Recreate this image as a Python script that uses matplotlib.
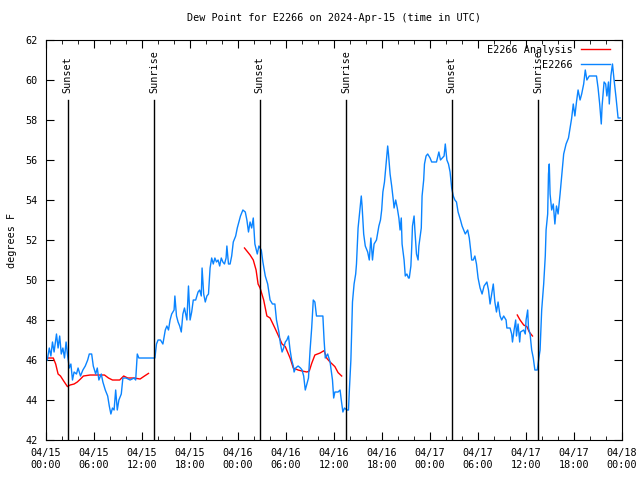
import numpy as np
import pandas as pd
import matplotlib
matplotlib.use('Agg')
import matplotlib.pyplot as plt
import matplotlib.dates as mdates

plt.rcParams['font.family'] = 'DejaVu Sans Mono'
plt.rcParams['font.size'] = 7.3

start = pd.Timestamp('2024-04-15 00:00')

# station obs: hours after start, dew point (F)
obs_hours = [0.15, 0.4, 0.6, 0.8, 1.0, 1.3, 1.5, 1.7, 1.9, 2.1, 2.3, 2.5, 2.7, 2.9, 3.1, 3.3, 3.5, 3.8,
             4.0, 4.3, 4.6, 4.9, 5.2, 5.4, 5.7, 5.9, 6.2, 6.4, 6.6, 6.9, 7.1, 7.4, 7.7, 7.9, 8.1, 8.3,
             8.5, 8.7, 8.9, 9.1, 9.4, 9.6, 10.0, 10.5, 11.0, 11.2, 11.4, 11.6, 12.0, 12.5, 13.0, 13.6,
             13.8, 14.0, 14.3, 14.6, 14.9, 15.1, 15.3, 15.5, 15.7, 16.0, 16.1, 16.3, 16.5, 16.7, 16.9,
             17.1, 17.3, 17.6, 17.8, 18.0, 18.2, 18.4, 18.7, 19.0, 19.2, 19.4, 19.5, 19.7, 19.9, 20.1,
             20.3, 20.5, 20.7, 20.9, 21.1, 21.3, 21.5, 21.7, 21.9, 22.1, 22.3, 22.5, 22.6, 22.8, 23.0,
             23.2, 23.4, 23.7, 23.9, 24.1, 24.3, 24.6, 24.9, 25.1, 25.3, 25.5, 25.7, 25.9, 26.1, 26.4,
             26.6, 26.9, 27.1, 27.4, 27.7, 28.0, 28.3, 28.6, 28.8, 29.1, 29.3, 29.5, 29.7, 29.9, 30.1,
             30.3, 30.5, 30.7, 30.9, 31.0, 31.2, 31.5, 31.8, 32.0, 32.2, 32.4, 32.6, 32.8, 33.0, 33.2,
             33.4, 33.6, 33.8, 34.2, 34.6, 34.75, 34.9, 35.2, 35.5, 35.8, 35.95, 36.1, 36.5, 36.75,
             36.9, 37.1, 37.3, 37.6, 37.8, 37.9, 38.1, 38.2, 38.3, 38.5, 38.7, 38.8, 39.0, 39.2, 39.4,
             39.5, 39.7, 39.9, 40.2, 40.4, 40.6, 40.8, 41.0, 41.3, 41.6, 41.8, 41.95, 42.1, 42.3, 42.5,
             42.7, 42.8, 43.0, 43.2, 43.4, 43.5, 43.7, 43.9, 44.1, 44.25, 44.4, 44.5, 44.75, 44.9,
             45.1, 45.3, 45.4, 45.6, 45.7, 45.8, 46.0, 46.1, 46.3, 46.5, 46.6, 46.9, 47.0, 47.2, 47.3,
             47.5, 47.7, 48.0, 48.2, 48.5, 48.8, 49.1, 49.3, 49.75, 49.9, 50.1, 50.3, 50.5, 50.7, 50.9,
             51.1, 51.3, 51.5, 51.8, 52.0, 52.2, 52.4, 52.7, 52.9, 53.1, 53.2, 53.4, 53.6, 53.8, 54.0,
             54.25, 54.5, 54.75, 55.1, 55.3, 55.5, 55.7, 55.9, 56.1, 56.3, 56.5, 56.75, 56.95, 57.2,
             57.5, 57.6, 58.0, 58.2, 58.3, 58.5, 58.7, 58.8, 59.0, 59.2, 59.3, 59.7, 59.9, 60.0, 60.2,
             60.3, 60.5, 60.7, 60.9, 61.1, 61.4, 61.6, 61.75, 61.95, 62.2, 62.4, 62.5, 62.7, 62.8,
             62.9, 63.0, 63.2, 63.4, 63.6, 63.8, 64.0, 64.25, 64.5, 64.7, 65.0, 65.3, 65.5, 65.7,
             65.9, 66.1, 66.3, 66.5, 66.75, 66.95, 67.2, 67.4, 67.6, 67.9, 68.8, 69.0, 69.2, 69.4,
             69.5, 69.75, 69.95, 70.1, 70.3, 70.4, 70.6, 70.8, 71.0, 71.25, 71.5, 71.75]
obs_dewpt = [46.0, 46.6, 46.2, 46.9, 46.4, 47.3, 46.6, 47.2, 46.3, 46.6, 46.1, 46.9, 46.2, 45.6, 45.8,
             45.0, 45.4, 45.3, 45.6, 45.2, 45.5, 45.7, 46.0, 46.3, 46.3, 45.7, 45.3, 45.6, 45.0, 45.3,
             44.9, 44.5, 44.2, 43.7, 43.3, 43.6, 43.5, 44.5, 43.5, 44.0, 44.3, 45.1, 45.1, 45.0, 45.1,
             45.0, 46.3, 46.1, 46.1, 46.1, 46.1, 46.1, 46.8, 47.0, 47.0, 46.8, 47.5, 47.7, 47.5, 48.0,
             48.3, 48.5, 49.2, 48.2, 47.9, 47.7, 47.4, 48.3, 48.6, 48.0, 49.7, 48.0, 48.4, 49.0, 49.0,
             49.4, 49.5, 49.2, 50.6, 49.3, 48.9, 49.2, 49.3, 50.6, 51.1, 50.8, 51.1, 50.9, 51.0, 50.7,
             51.1, 50.9, 50.8, 51.1, 51.7, 50.8, 50.8, 51.2, 51.9, 52.2, 52.6, 52.9, 53.2, 53.5, 53.4,
             53.0, 52.4, 52.9, 52.6, 53.1, 51.8, 51.3, 51.7, 51.5, 50.9, 50.2, 49.8, 49.0, 48.8, 48.8,
             48.0, 47.4, 46.8, 46.4, 46.6, 46.9, 47.0, 47.2, 46.5, 46.0, 45.7, 45.4, 45.6, 45.7, 45.6,
             45.5, 45.2, 44.5, 44.8, 45.1, 46.5, 47.6, 49.0, 48.9, 48.2, 48.2, 48.2, 47.0, 46.1, 46.3,
             45.9, 45.0, 44.1, 44.4, 44.4, 44.5, 44.0, 43.4, 43.6, 43.5, 43.5, 44.4, 46.0, 47.5, 48.9,
             49.8, 50.3, 50.8, 52.6, 53.4, 54.2, 53.7, 52.3, 51.7, 51.4, 51.0, 52.1, 51.0, 51.8, 52.0,
             52.7, 53.0, 53.5, 54.4, 54.9, 55.8, 56.7, 56.3, 55.3, 54.7, 54.0, 53.6, 54.0, 53.6, 53.1,
             52.5, 53.1, 51.8, 51.0, 50.2, 50.3, 50.1, 50.1, 50.7, 51.6, 52.7, 53.2, 52.5, 51.3, 51.0,
             51.7, 52.6, 54.2, 55.0, 55.8, 56.2, 56.3, 56.1, 55.9, 55.9, 55.9, 56.4, 56.0, 56.2, 56.8,
             56.0, 55.8, 55.4, 54.6, 54.2, 54.0, 53.9, 53.4, 53.0, 52.7, 52.5, 52.3, 52.5, 52.1, 51.4,
             51.0, 51.0, 51.2, 50.8, 50.1, 49.6, 49.3, 49.7, 49.9, 49.5, 48.8, 49.3, 49.8, 48.9, 48.4,
             48.9, 48.2, 48.0, 48.2, 48.0, 47.6, 47.6, 47.3, 46.9, 47.5, 48.0, 47.2, 47.8, 46.9, 47.4,
             47.5, 47.3, 48.0, 48.5, 47.6, 47.3, 46.5, 46.1, 45.5, 45.5, 46.1, 46.5, 48.5, 49.8, 51.2,
             52.5, 53.3, 55.3, 55.8, 54.3, 53.5, 53.8, 52.8, 53.7, 53.3, 54.3, 55.4, 56.3, 56.8, 57.1,
             57.6, 58.1, 58.8, 58.2, 58.9, 59.5, 59.0, 59.3, 59.8, 60.5, 60.0, 60.2, 60.2, 59.6, 58.8,
             57.8, 58.7, 59.9, 59.8, 59.2, 59.9, 58.8, 60.2, 60.8, 60.0, 59.1, 58.1, 58.1]

# analysis series (nan = gap)
ana_hours = [0.15, 0.9, 1.2, 1.5, 1.8, 2.2, 2.67, 3.0, 3.5, 3.9, 4.3, 4.67, 5.5, 6.5, 7.3, 7.8, 8.3,
             9.2, 9.7, 10.2, 11.0, 11.75, 12.3, 12.8, np.nan,
             24.8, 25.2, 25.5, 25.9, 26.25, 26.5, 26.75, 27.2, 27.6, 28.0, 28.6, 29.0, 29.5, 29.9,
             30.5, 30.9, 31.5, 32.0, 32.6, 32.9, 33.2, 33.6, 34.25, 34.75, 35.1, 35.5, 36.1, 36.5,
             36.95, np.nan,
             58.9, 59.25, 59.7, 60.1, 60.4, 60.8]
ana_dewpt = [46.1, 46.1, 45.8, 45.3, 45.2, 44.95, 44.67, 44.75, 44.8, 44.9, 45.05, 45.2, 45.25, 45.25,
             45.25, 45.1, 45.0, 45.0, 45.2, 45.1, 45.1, 45.05, 45.2, 45.33, np.nan,
             51.6, 51.4, 51.25, 51.0, 50.5, 49.8, 49.6, 49.0, 48.2, 48.1, 47.6, 47.25, 46.8, 46.67,
             46.1, 45.6, 45.5, 45.45, 45.4, 45.45, 45.83, 46.25, 46.35, 46.47, 46.08, 45.9, 45.67,
             45.37, 45.2, np.nan,
             48.25, 48.0, 47.75, 47.67, 47.4, 47.2]

sun_hours = [2.7, 13.55, 26.7, 37.55, 50.7, 61.55]
sun_labels = ['Sunset', 'Sunrise', 'Sunset', 'Sunrise', 'Sunset', 'Sunrise']

def to_time(hours):
    return (start + pd.to_timedelta(np.array(hours, dtype=float), unit='h')).to_numpy()

fig = plt.figure(figsize=(6.4, 4.8), dpi=100)
ax = fig.add_axes([0.072, 0.0833, 0.9, 0.8334])

ax.plot(to_time(ana_hours), ana_dewpt, color='red', lw=1, label='E2266 Analysis')
ax.plot(to_time(obs_hours), obs_dewpt, color='#0a84ff', lw=1, label='E2266')

for h, lab in zip(sun_hours, sun_labels):
    t = start + pd.Timedelta(hours=h)
    ax.plot([t, t], [42, 59], color='black', lw=1)
    ax.text(t, 59.35, lab, rotation=90, ha='center', va='bottom')

ax.set_xlim(start, start + pd.Timedelta(hours=72))
ax.set_ylim(42, 62)
ax.set_yticks(np.arange(42, 63, 2))
ax.xaxis.set_major_locator(mdates.HourLocator(byhour=[0, 6, 12, 18]))
ax.xaxis.set_minor_locator(mdates.HourLocator(byhour=range(0, 24, 2)))
ax.xaxis.set_major_formatter(mdates.DateFormatter('%m/%d\n%H:%M'))
ax.tick_params(direction='in', top=True, right=True, which='both')
ax.tick_params(which='major', length=6, pad=6)
ax.tick_params(which='minor', length=3)
ax.set_ylabel('degrees F', labelpad=6)
ax.set_title('Dew Point for E2266 on 2024-Apr-15 (time in UTC)', fontsize=7.3, pad=14)

ax.legend(loc='upper right', bbox_to_anchor=(0.985, 0.995), frameon=False, markerfirst=False,
          handlelength=2.9, borderaxespad=0, borderpad=0.3, labelspacing=0.45, handletextpad=0.8)

fig.savefig('out.png', dpi=100)
